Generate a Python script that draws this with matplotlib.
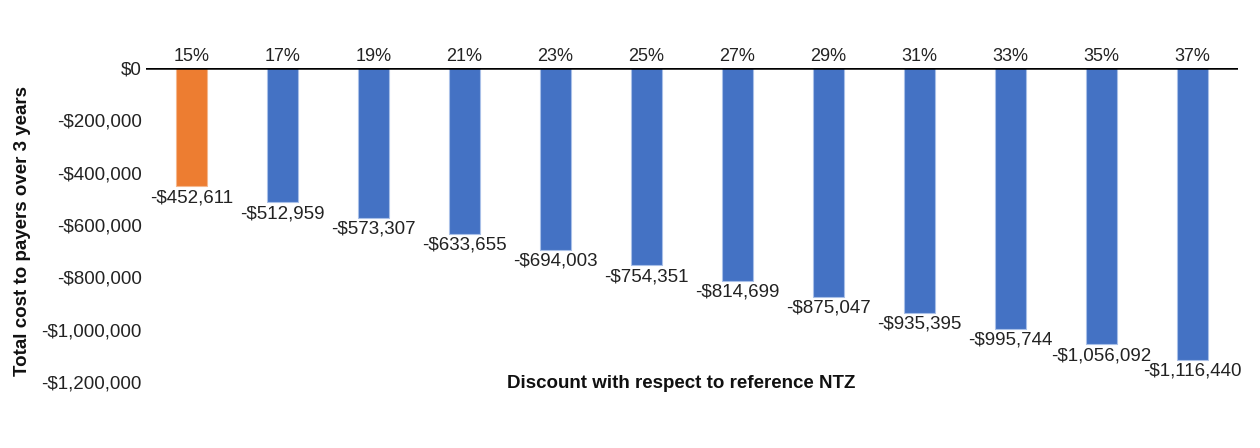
import matplotlib
matplotlib.use("Agg")
import matplotlib.pyplot as plt

categories = ["15%", "17%", "19%", "21%", "23%", "25%", "27%", "29%", "31%", "33%", "35%", "37%"]
values = [-452611, -512959, -573307, -633655, -694003, -754351, -814699, -875047, -935395, -995744, -1056092, -1116440]
bar_colors = ["#ED7D31"] + ["#4472C4"] * 11
yticks = [0, -200000, -400000, -600000, -800000, -1000000, -1200000]

plt.rcParams['font.family'] = ['Liberation Sans', 'DejaVu Sans']

fig = plt.figure(figsize=(12.6, 4.48), dpi=100)
ax = fig.add_axes([146/1260, 1-382/448, (1238-146)/1260, (382-68)/448])

x = list(range(len(categories)))
bars = ax.bar(x, values, width=0.33, color=bar_colors, edgecolor="#A9C0E8", linewidth=0.8)
for b, c in zip(bars, bar_colors):
    if c == "#ED7D31":
        b.set_edgecolor("#F5B88E")

def fmt(v):
    return ("-$" if v < 0 else "$") + f"{abs(v):,.0f}"

for xi, v in zip(x, values):
    ax.annotate(fmt(v), (xi, v), xytext=(0, -2), textcoords="offset points",
                ha="center", va="top", fontsize=13.5, color="#222222", annotation_clip=False)
for xi, c in zip(x, categories):
    ax.annotate(c, (xi, 0), xytext=(0, 2), textcoords="offset points",
                ha="center", va="bottom", fontsize=13, color="#222222", annotation_clip=False)

ax.set_xlim(-0.5, len(categories) - 0.5)
ax.set_ylim(-1200000, 0)
ax.set_yticks(yticks)
ax.set_yticklabels([fmt(v) for v in yticks], fontsize=13.5, color="#222222")
ax.tick_params(axis="y", length=0, pad=3)
ax.set_xticks([])
for s in ["left", "right", "bottom", "top"]:
    ax.spines[s].set_visible(False)
ax.axhline(0, color="black", linewidth=1.8, zorder=5)

ax.set_ylabel("Total cost to payers over 3 years", fontsize=13.5, fontweight="bold", color="#111111", labelpad=6)
ax.yaxis.set_label_coords(-0.105, 0.48)
ax.text(0.49, -0.005, "Discount with respect to reference NTZ", transform=ax.transAxes,
        ha="center", va="center", fontsize=13.5, fontweight="bold", color="#111111")

fig.savefig("out.png", dpi=100, facecolor="white")
